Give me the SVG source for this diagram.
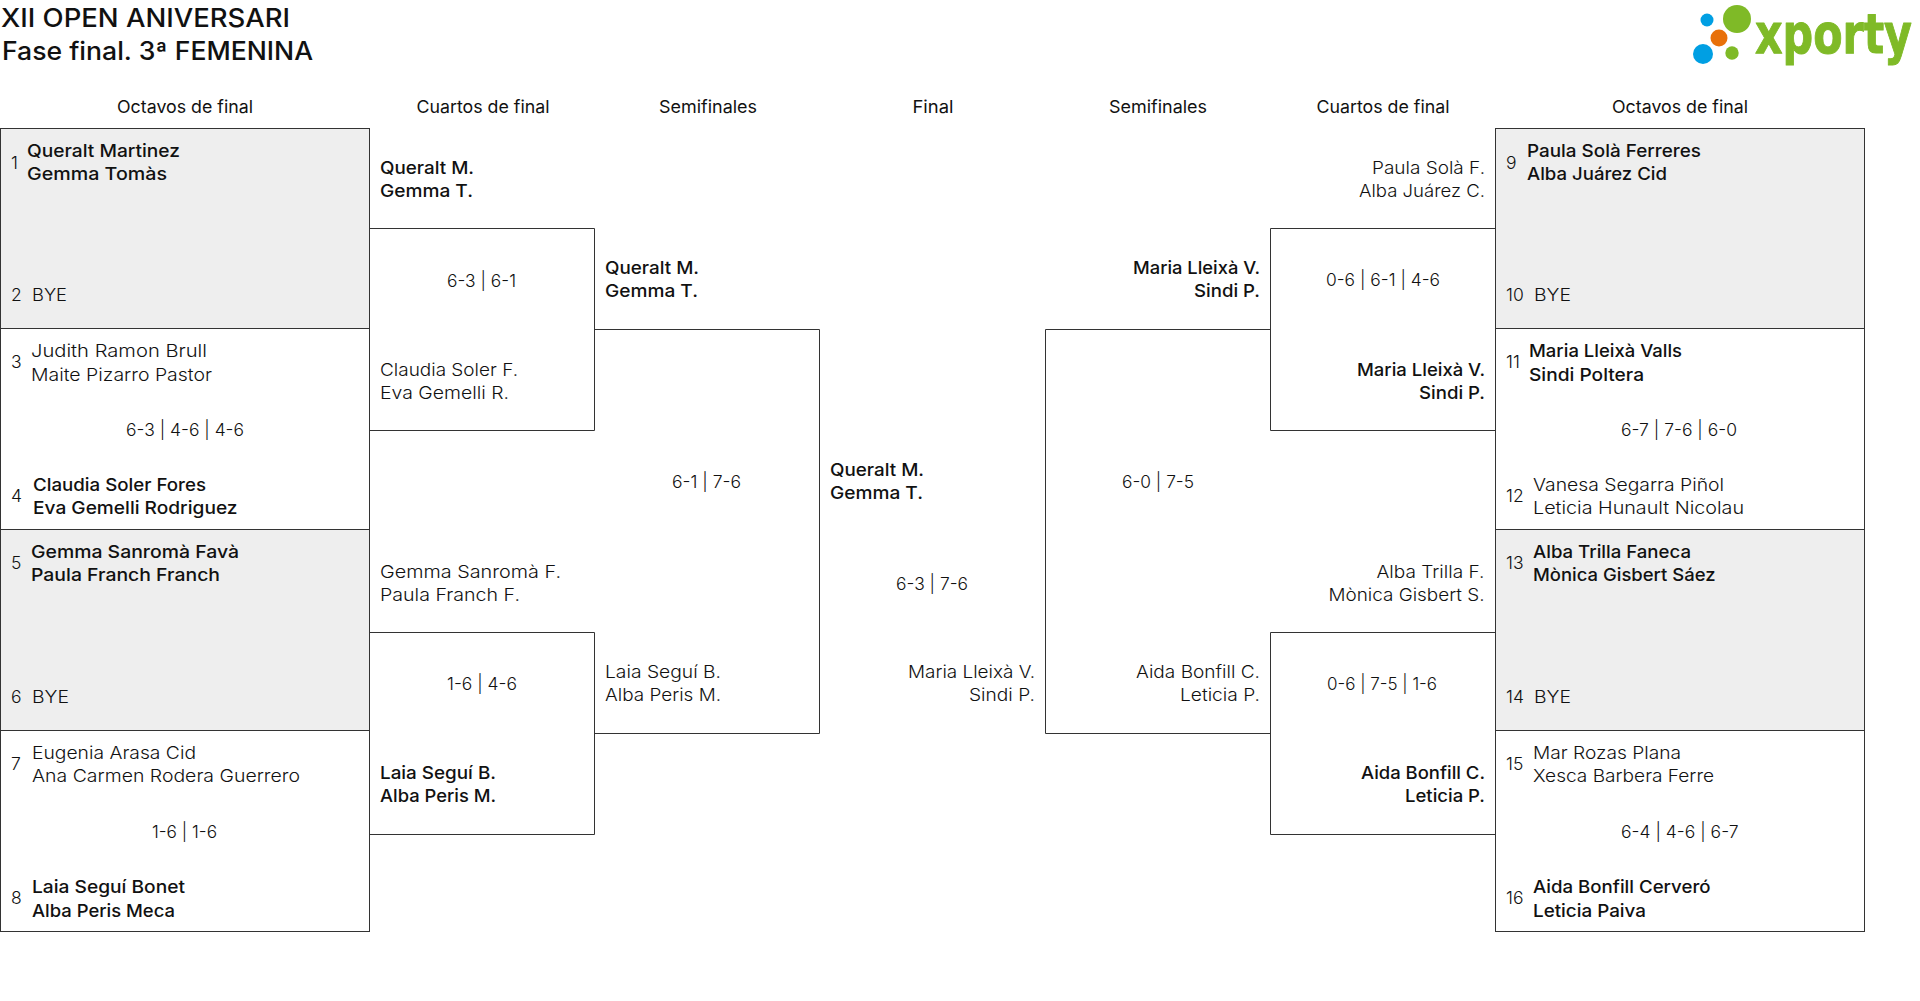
<svg xmlns="http://www.w3.org/2000/svg" width="1920" height="1001" viewBox="0 0 1920 1001">
<style>
text{font-family:Inter,"Open Sans","Liberation Sans",sans-serif;font-size:17.5px;fill:#111}
.w{font-weight:500}
.l{font-weight:300}
.h{font-weight:400;font-size:17.5px;text-anchor:middle}
.e{text-anchor:end}
.title{font-size:25px;font-weight:500}
.box{fill:#fff;stroke:#333;stroke-width:1}
.bye{fill:#eee;stroke:#333;stroke-width:1}
.con{fill:none;stroke:#333;stroke-width:1}
.logo{font-family:"DejaVu Sans",sans-serif;font-weight:700;font-size:43px;fill:#7fba27;stroke:#7fba27;stroke-width:.8;stroke-linejoin:round}
</style>
<rect width="1920" height="1001" fill="#fff"/>
<g id="title">
<text class="title" x="1" y="26.500" textLength="289" lengthAdjust="spacingAndGlyphs">XII OPEN ANIVERSARI</text>
<text class="title" x="2" y="60" textLength="311" lengthAdjust="spacingAndGlyphs">Fase final. 3ª FEMENINA</text>
</g>
<g id="logo">
<circle cx="1737" cy="19" r="14" fill="#7fba27"/>
<circle cx="1707" cy="20" r="6.500" fill="#009fe3"/>
<circle cx="1719" cy="38" r="8.500" fill="#e8710a"/>
<circle cx="1703" cy="54" r="10" fill="#009fe3"/>
<circle cx="1732" cy="53" r="6.700" fill="#7fba27"/>
<text class="logo" transform="translate(1755 53) scale(1 1.28)" x="0" y="0" textLength="157" lengthAdjust="spacingAndGlyphs">xporty</text>
</g>
<g id="headers">
<text class="h" x="185" y="113" textLength="136" lengthAdjust="spacingAndGlyphs">Octavos de final</text>
<text class="h" x="483" y="113" textLength="133" lengthAdjust="spacingAndGlyphs">Cuartos de final</text>
<text class="h" x="708" y="113" textLength="98" lengthAdjust="spacingAndGlyphs">Semifinales</text>
<text class="h" x="933" y="113" textLength="41" lengthAdjust="spacingAndGlyphs">Final</text>
<text class="h" x="1158" y="113" textLength="98" lengthAdjust="spacingAndGlyphs">Semifinales</text>
<text class="h" x="1383" y="113" textLength="133" lengthAdjust="spacingAndGlyphs">Cuartos de final</text>
<text class="h" x="1680" y="113" textLength="136" lengthAdjust="spacingAndGlyphs">Octavos de final</text>
</g>
<g id="connectors">
<path class="con" d="M369.500 228.500H594.500V430.500H369.500"/>
<path class="con" d="M369.500 632.500H594.500V834.500H369.500"/>
<path class="con" d="M594.500 329.500H819.500V733.500H594.500"/>
<path class="con" d="M1495.500 228.500H1270.500V430.500H1495.500"/>
<path class="con" d="M1495.500 632.500H1270.500V834.500H1495.500"/>
<path class="con" d="M1270.500 329.500H1045.500V733.500H1270.500"/>
</g>
<g id="m1"><rect class="bye" x="0.500" y="128.500" width="369" height="200"/>
<text class="l" x="11" y="168.500">1</text><text class="w" x="27" y="156.500" textLength="153" lengthAdjust="spacingAndGlyphs">Queralt Martinez</text><text class="w" x="27" y="179.700" textLength="140" lengthAdjust="spacingAndGlyphs">Gemma Tomàs</text>
<text class="l" x="11" y="301">2</text><text class="l" x="32" y="301" textLength="35" lengthAdjust="spacingAndGlyphs">BYE</text></g>
<g id="m2"><rect class="box" x="0.500" y="328.500" width="369" height="201"/>
<text class="l" x="11" y="368.200">3</text><text class="l" x="31" y="357.200" textLength="176" lengthAdjust="spacingAndGlyphs">Judith Ramon Brull</text><text class="l" x="31" y="380.500" textLength="181" lengthAdjust="spacingAndGlyphs">Maite Pizarro Pastor</text>
<text class="l" x="126" y="435.800" textLength="118" lengthAdjust="spacingAndGlyphs">6-3 | 4-6 | 4-6</text>
<text class="l" x="11" y="501.700">4</text><text class="w" x="33" y="490.700" textLength="173" lengthAdjust="spacingAndGlyphs">Claudia Soler Fores</text><text class="w" x="33" y="514" textLength="204.500" lengthAdjust="spacingAndGlyphs">Eva Gemelli Rodriguez</text></g>
<g id="m3"><rect class="bye" x="0.500" y="529.500" width="369" height="201"/>
<text class="l" x="11" y="569">5</text><text class="w" x="31" y="558" textLength="208" lengthAdjust="spacingAndGlyphs">Gemma Sanromà Favà</text><text class="w" x="31" y="581.300" textLength="189" lengthAdjust="spacingAndGlyphs">Paula Franch Franch</text>
<text class="l" x="11" y="702.500">6</text><text class="l" x="32" y="702.500" textLength="37" lengthAdjust="spacingAndGlyphs">BYE</text></g>
<g id="m4"><rect class="box" x="0.500" y="730.500" width="369" height="201"/>
<text class="l" x="11" y="770">7</text><text class="l" x="32" y="759.300" textLength="164" lengthAdjust="spacingAndGlyphs">Eugenia Arasa Cid</text><text class="l" x="32" y="782.300" textLength="268" lengthAdjust="spacingAndGlyphs">Ana Carmen Rodera Guerrero</text>
<text class="l" x="152" y="838" textLength="65" lengthAdjust="spacingAndGlyphs">1-6 | 1-6</text>
<text class="l" x="11" y="904">8</text><text class="w" x="32" y="893.300" textLength="153" lengthAdjust="spacingAndGlyphs">Laia Seguí Bonet</text><text class="w" x="32" y="916.500" textLength="143" lengthAdjust="spacingAndGlyphs">Alba Peris Meca</text></g>
<g id="q1"><text class="w" x="380" y="173.500" textLength="94" lengthAdjust="spacingAndGlyphs">Queralt M.</text><text class="w" x="380" y="196.800" textLength="93" lengthAdjust="spacingAndGlyphs">Gemma T.</text>
<text class="l" x="447" y="286.500" textLength="69" lengthAdjust="spacingAndGlyphs">6-3 | 6-1</text>
<text class="l" x="380" y="375.700" textLength="138" lengthAdjust="spacingAndGlyphs">Claudia Soler F.</text><text class="l" x="380" y="398.700" textLength="129" lengthAdjust="spacingAndGlyphs">Eva Gemelli R.</text></g>
<g id="q2"><text class="l" x="380" y="577.600" textLength="181" lengthAdjust="spacingAndGlyphs">Gemma Sanromà F.</text><text class="l" x="380" y="600.800" textLength="140" lengthAdjust="spacingAndGlyphs">Paula Franch F.</text>
<text class="l" x="447" y="690.300" textLength="70" lengthAdjust="spacingAndGlyphs">1-6 | 4-6</text>
<text class="w" x="380" y="779" textLength="116" lengthAdjust="spacingAndGlyphs">Laia Seguí B.</text><text class="w" x="380" y="802" textLength="116" lengthAdjust="spacingAndGlyphs">Alba Peris M.</text></g>
<g id="s1"><text class="w" x="605" y="274" textLength="94" lengthAdjust="spacingAndGlyphs">Queralt M.</text><text class="w" x="605" y="297" textLength="93" lengthAdjust="spacingAndGlyphs">Gemma T.</text>
<text class="l" x="672" y="488.200" textLength="69" lengthAdjust="spacingAndGlyphs">6-1 | 7-6</text>
<text class="l" x="605" y="678.200" textLength="116" lengthAdjust="spacingAndGlyphs">Laia Seguí B.</text><text class="l" x="605" y="701.200" textLength="116" lengthAdjust="spacingAndGlyphs">Alba Peris M.</text></g>
<g id="f"><text class="w" x="830" y="476" textLength="94" lengthAdjust="spacingAndGlyphs">Queralt M.</text><text class="w" x="830" y="499.200" textLength="93" lengthAdjust="spacingAndGlyphs">Gemma T.</text>
<text class="l" x="896" y="589.900" textLength="72" lengthAdjust="spacingAndGlyphs">6-3 | 7-6</text>
<text class="l e" x="1035" y="678.200" textLength="127" lengthAdjust="spacingAndGlyphs">Maria Lleixà V.</text><text class="l e" x="1035" y="701.200" textLength="66" lengthAdjust="spacingAndGlyphs">Sindi P.</text></g>
<g id="s2"><text class="w e" x="1260" y="274" textLength="127" lengthAdjust="spacingAndGlyphs">Maria Lleixà V.</text><text class="w e" x="1260" y="297" textLength="66" lengthAdjust="spacingAndGlyphs">Sindi P.</text>
<text class="l" x="1122" y="488.200" textLength="72" lengthAdjust="spacingAndGlyphs">6-0 | 7-5</text>
<text class="l e" x="1260" y="678.200" textLength="124" lengthAdjust="spacingAndGlyphs">Aida Bonfill C.</text><text class="l e" x="1260" y="701.200" textLength="80" lengthAdjust="spacingAndGlyphs">Leticia P.</text></g>
<g id="q3"><text class="l e" x="1485" y="173.500" textLength="113" lengthAdjust="spacingAndGlyphs">Paula Solà F.</text><text class="l e" x="1485" y="196.800" textLength="126" lengthAdjust="spacingAndGlyphs">Alba Juárez C.</text>
<text class="l" x="1326" y="286.200" textLength="114" lengthAdjust="spacingAndGlyphs">0-6 | 6-1 | 4-6</text>
<text class="w e" x="1485" y="375.600" textLength="128" lengthAdjust="spacingAndGlyphs">Maria Lleixà V.</text><text class="w e" x="1485" y="398.800" textLength="66" lengthAdjust="spacingAndGlyphs">Sindi P.</text></g>
<g id="q4"><text class="l e" x="1484.500" y="577.600" textLength="108" lengthAdjust="spacingAndGlyphs">Alba Trilla F.</text><text class="l e" x="1484.500" y="600.800" textLength="156" lengthAdjust="spacingAndGlyphs">Mònica Gisbert S.</text>
<text class="l" x="1327" y="690" textLength="110" lengthAdjust="spacingAndGlyphs">0-6 | 7-5 | 1-6</text>
<text class="w e" x="1485" y="779" textLength="124" lengthAdjust="spacingAndGlyphs">Aida Bonfill C.</text><text class="w e" x="1485" y="802" textLength="80" lengthAdjust="spacingAndGlyphs">Leticia P.</text></g>
<g id="m5"><rect class="bye" x="1495.500" y="128.500" width="369" height="200"/>
<text class="l" x="1506" y="168.500">9</text><text class="w" x="1527" y="156.500" textLength="174" lengthAdjust="spacingAndGlyphs">Paula Solà Ferreres</text><text class="w" x="1527" y="179.700" textLength="140" lengthAdjust="spacingAndGlyphs">Alba Juárez Cid</text>
<text class="l" x="1506" y="301">10</text><text class="l" x="1534" y="301" textLength="37" lengthAdjust="spacingAndGlyphs">BYE</text></g>
<g id="m6"><rect class="box" x="1495.500" y="328.500" width="369" height="201"/>
<text class="l" x="1506" y="368.200">11</text><text class="w" x="1529" y="357.200" textLength="153" lengthAdjust="spacingAndGlyphs">Maria Lleixà Valls</text><text class="w" x="1529" y="380.500" textLength="115" lengthAdjust="spacingAndGlyphs">Sindi Poltera</text>
<text class="l" x="1621" y="435.800" textLength="116" lengthAdjust="spacingAndGlyphs">6-7 | 7-6 | 6-0</text>
<text class="l" x="1506" y="501.700">12</text><text class="l" x="1533" y="490.700" textLength="191" lengthAdjust="spacingAndGlyphs">Vanesa Segarra Piñol</text><text class="l" x="1533" y="514" textLength="211" lengthAdjust="spacingAndGlyphs">Leticia Hunault Nicolau</text></g>
<g id="m7"><rect class="bye" x="1495.500" y="529.500" width="369" height="201"/>
<text class="l" x="1506" y="569">13</text><text class="w" x="1533" y="558" textLength="158" lengthAdjust="spacingAndGlyphs">Alba Trilla Faneca</text><text class="w" x="1533" y="581.300" textLength="182.500" lengthAdjust="spacingAndGlyphs">Mònica Gisbert Sáez</text>
<text class="l" x="1506" y="702.500">14</text><text class="l" x="1534" y="702.500" textLength="37" lengthAdjust="spacingAndGlyphs">BYE</text></g>
<g id="m8"><rect class="box" x="1495.500" y="730.500" width="369" height="201"/>
<text class="l" x="1506" y="770">15</text><text class="l" x="1533" y="759.300" textLength="148" lengthAdjust="spacingAndGlyphs">Mar Rozas Plana</text><text class="l" x="1533" y="782.300" textLength="181" lengthAdjust="spacingAndGlyphs">Xesca Barbera Ferre</text>
<text class="l" x="1621" y="838" textLength="117.500" lengthAdjust="spacingAndGlyphs">6-4 | 4-6 | 6-7</text>
<text class="l" x="1506" y="904">16</text><text class="w" x="1533" y="893.300" textLength="177.500" lengthAdjust="spacingAndGlyphs">Aida Bonfill Cerveró</text><text class="w" x="1533" y="916.500" textLength="113" lengthAdjust="spacingAndGlyphs">Leticia Paiva</text></g>
</svg>
